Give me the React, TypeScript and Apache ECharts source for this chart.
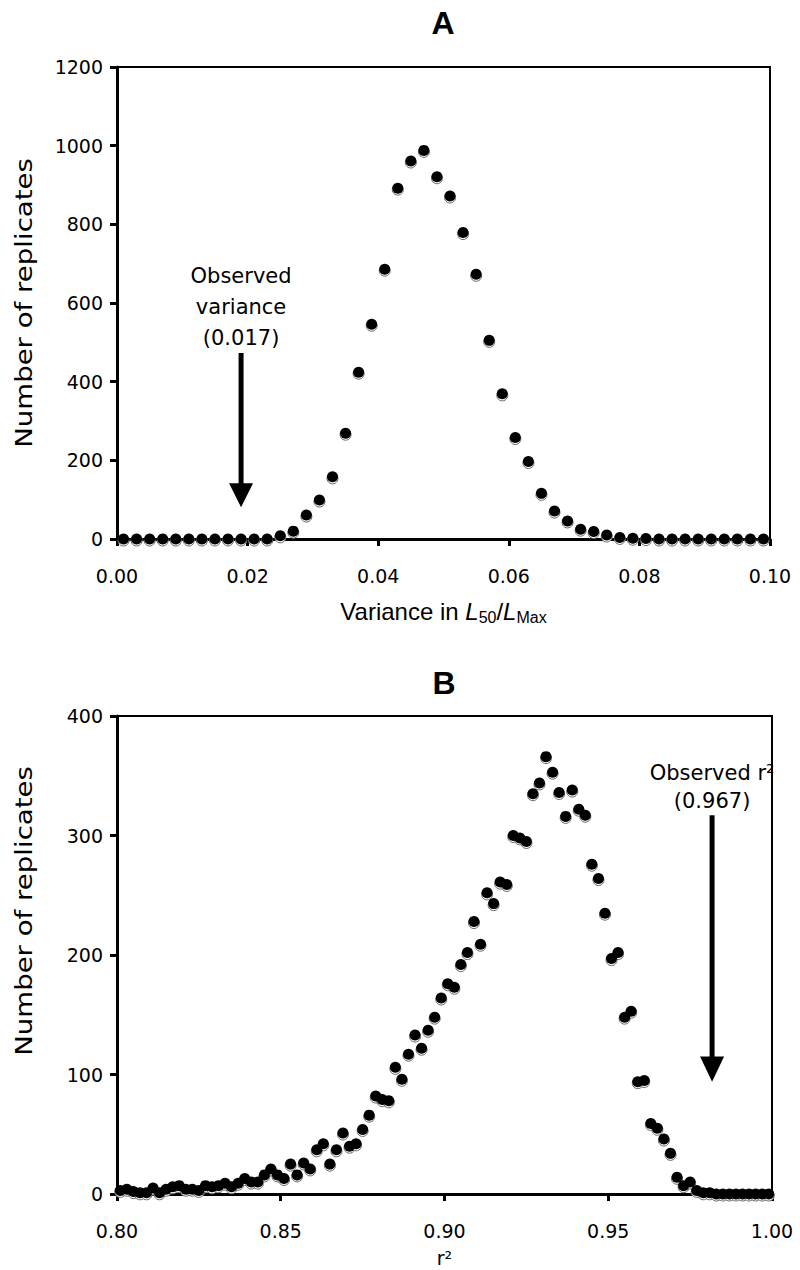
import React, { useEffect, useRef } from "react";
import * as echarts from "echarts";

// Panel A: variance in L50/LMax, bins of width 0.002
const binStartA = 0.001;
const binStepA = 0.002;
const countsA = [
  0, 0, 0, 0, 0, 0, 0, 0, 0, 0, 0, 0,
  8, 20, 61, 99, 158, 269, 424, 546, 686, 892,
  961, 988, 921, 872, 779, 673, 505, 369, 258, 197,
  116, 71, 46, 25, 19, 10, 4, 2,
  1, 0, 0, 0, 0, 0, 0, 0, 0, 0,
];

// Panel B: r^2, bins of width 0.002
const binStartB = 0.801;
const binStepB = 0.002;
const countsB = [
  3, 4, 2, 1, 1, 5, 1, 4, 6, 7,
  4, 4, 3, 7, 6, 7, 9, 6, 9, 13,
  10, 10, 16, 21, 16, 13, 25, 16, 26, 21,
  37, 42, 25, 37, 51, 40, 42, 54, 66, 82,
  79, 78, 106, 96, 117, 133, 122, 137, 148, 164,
  176, 173, 192, 202, 228, 209, 252, 243, 261, 259,
  300, 298, 295, 335, 344, 366, 353, 336, 316, 338,
  322, 317, 276, 264, 235, 197, 202, 148, 153, 94,
  95, 59, 55, 46, 34, 14, 7, 10, 3, 1,
  1, 0, 0, 0, 0, 0, 0, 0, 0, 0,
];

const axisA = { xMin: 0, xMax: 0.1, xStep: 0.02, yMin: 0, yMax: 1200, yStep: 200 };
const axisB = { xMin: 0.8, xMax: 1.0, xStep: 0.05, yMin: 0, yMax: 400, yStep: 100 };

const annotA = { x: 0.019, lines: "Observed\nvariance\n(0.017)", textY: 590, shaftTop: 473, headTop: 142, tip: 81 };
const annotB = { x: 0.9817, lines: "Observed r\u00B2\n(0.967)", textY: 341, shaftTop: 317, headTop: 115, tip: 94 };

const FONT = "DejaVu Sans";
const W = 800;
const H = 1270;

function toPoints(start: number, step: number, counts: number[]) {
  return counts.map((c, i) => [+(start + step * i).toFixed(4), c]);
}

export default function App() {
  const ref = useRef<HTMLDivElement>(null);
  useEffect(() => {
    document.body.style.margin = "0";
    const chart = echarts.init(ref.current!, null, { renderer: "svg" });
    const dataA = toPoints(binStartA, binStepA, countsA);
    const dataB = toPoints(binStartB, binStepB, countsB);

    const xAxisCommon = (gi: number, ax: any, name: any, nameGap: number, nameStyle: any) => ({
      type: "value",
      gridIndex: gi,
      min: ax.xMin,
      max: ax.xMax,
      interval: ax.xStep,
      axisLine: { show: true, onZero: false, lineStyle: { color: "#000", width: 3 } },
      axisTick: { show: true, inside: false, length: 7, lineStyle: { color: "#000", width: 3 } },
      axisLabel: {
        color: "#000",
        fontFamily: FONT,
        fontSize: 19,
        margin: 27,
        formatter: (v: number) => v.toFixed(2),
      },
      splitLine: { show: false },
      name,
      nameLocation: "middle",
      nameGap,
      nameTextStyle: nameStyle,
    });
    const yAxisCommon = (gi: number, ax: any) => ({
      type: "value",
      gridIndex: gi,
      min: ax.yMin,
      max: ax.yMax,
      interval: ax.yStep,
      axisLine: { show: true, lineStyle: { color: "#000", width: 3 } },
      axisTick: { show: true, inside: false, length: 7, lineStyle: { color: "#000", width: 3 } },
      axisLabel: { color: "#000", fontFamily: FONT, fontSize: 19, margin: 14, formatter: (v: number) => String(v) },
      splitLine: { show: false },
    });

    const scatterPair = (gi: number, data: number[][]) => [
      {
        type: "scatter",
        xAxisIndex: gi,
        yAxisIndex: gi,
        data,
        symbol: "circle",
        symbolSize: 11,
        symbolOffset: [0, 1.5],
        clip: false,
        itemStyle: { color: "#fff", borderColor: "#666", borderWidth: 1, opacity: 1 },
        z: 3,
      },
      {
        type: "scatter",
        xAxisIndex: gi,
        yAxisIndex: gi,
        data,
        symbol: "circle",
        symbolSize: 11,
        clip: false,
        itemStyle: { color: "#000", opacity: 1 },
        z: 4,
      },
    ];

    const option: any = {
      animation: false,
      backgroundColor: "#fff",
      grid: [
        { left: 117, top: 67, width: 653, height: 472, show: true, borderColor: "#000", borderWidth: 2, backgroundColor: "transparent" },
        { left: 117, top: 716, width: 655, height: 478, show: true, borderColor: "#000", borderWidth: 2, backgroundColor: "transparent" },
      ],
      xAxis: [
        xAxisCommon(
          0,
          axisA,
          "{n|Variance in }{i|L}{s|50}{n|/}{i|L}{s|Max}",
          58,
          {
            color: "#000",
            fontFamily: "Liberation Sans",
            fontSize: 24,
            rich: {
              n: { fontFamily: "Liberation Sans", fontSize: 24, color: "#000", lineHeight: 28, verticalAlign: "middle" },
              i: { fontFamily: "Liberation Sans", fontSize: 24, fontStyle: "italic", color: "#000", lineHeight: 28, verticalAlign: "middle" },
              s: { fontFamily: "Liberation Sans", fontSize: 16, color: "#000", lineHeight: 15, verticalAlign: "bottom" },
            },
          }
        ),
        xAxisCommon(1, axisB, "r\u00B2", 54, { color: "#000", fontFamily: FONT, fontSize: 19 }),
      ],
      yAxis: [yAxisCommon(0, axisA), yAxisCommon(1, axisB)],
      series: [...scatterPair(0, dataA), ...scatterPair(1, dataB)],
    };
    chart.setOption(option);

    const arrow = (gi: number, a: any, fontSize: number, lineH: number) => {
      const t = chart.convertToPixel({ gridIndex: gi }, [a.x, a.textY]) as number[];
      const s = chart.convertToPixel({ gridIndex: gi }, [a.x, a.shaftTop]) as number[];
      const h = chart.convertToPixel({ gridIndex: gi }, [a.x, a.headTop]) as number[];
      const p = chart.convertToPixel({ gridIndex: gi }, [a.x, a.tip]) as number[];
      return [
        {
          type: "text",
          x: t[0],
          y: t[1],
          style: {
            text: a.lines,
            fill: "#000",
            font: `${fontSize}px "${FONT}"`,
            lineHeight: lineH,
            align: "center",
            verticalAlign: "middle",
            textAlign: "center",
            textVerticalAlign: "middle",
          },
          z: 10,
        },
        {
          type: "line",
          shape: { x1: s[0], y1: s[1], x2: h[0], y2: h[1] + 2 },
          style: { stroke: "#000", lineWidth: 5 },
          z: 10,
        },
        {
          type: "polygon",
          shape: { points: [[h[0] - 12, h[1]], [h[0] + 12, h[1]], [p[0], p[1]]] },
          style: { fill: "#000" },
          z: 10,
        },
      ];
    };

    const centered = { align: "center", verticalAlign: "middle", textAlign: "center", textVerticalAlign: "middle" };
    chart.setOption({
      graphic: [
        { type: "text", x: 443, y: 23, style: { text: "A", fill: "#000", font: 'bold 32px "Liberation Sans"', ...centered } },
        { type: "text", x: 444, y: 683, style: { text: "B", fill: "#000", font: 'bold 32px "Liberation Sans"', ...centered } },
        { type: "text", x: 24, y: 303, rotation: Math.PI / 2, scaleX: 1.2, style: { text: "Number of replicates", fill: "#000", font: `23px "${FONT}"`, ...centered } },
        { type: "text", x: 24, y: 911, rotation: Math.PI / 2, scaleX: 1.2, style: { text: "Number of replicates", fill: "#000", font: `23px "${FONT}"`, ...centered } },
        ...arrow(0, annotA, 21, 31),
        ...arrow(1, annotB, 21, 28),
      ],
    });

    return () => chart.dispose();
  }, []);
  return <div ref={ref} style={{ position: "absolute", left: 0, top: 0, width: W, height: H, background: "#fff" }} />;
}
